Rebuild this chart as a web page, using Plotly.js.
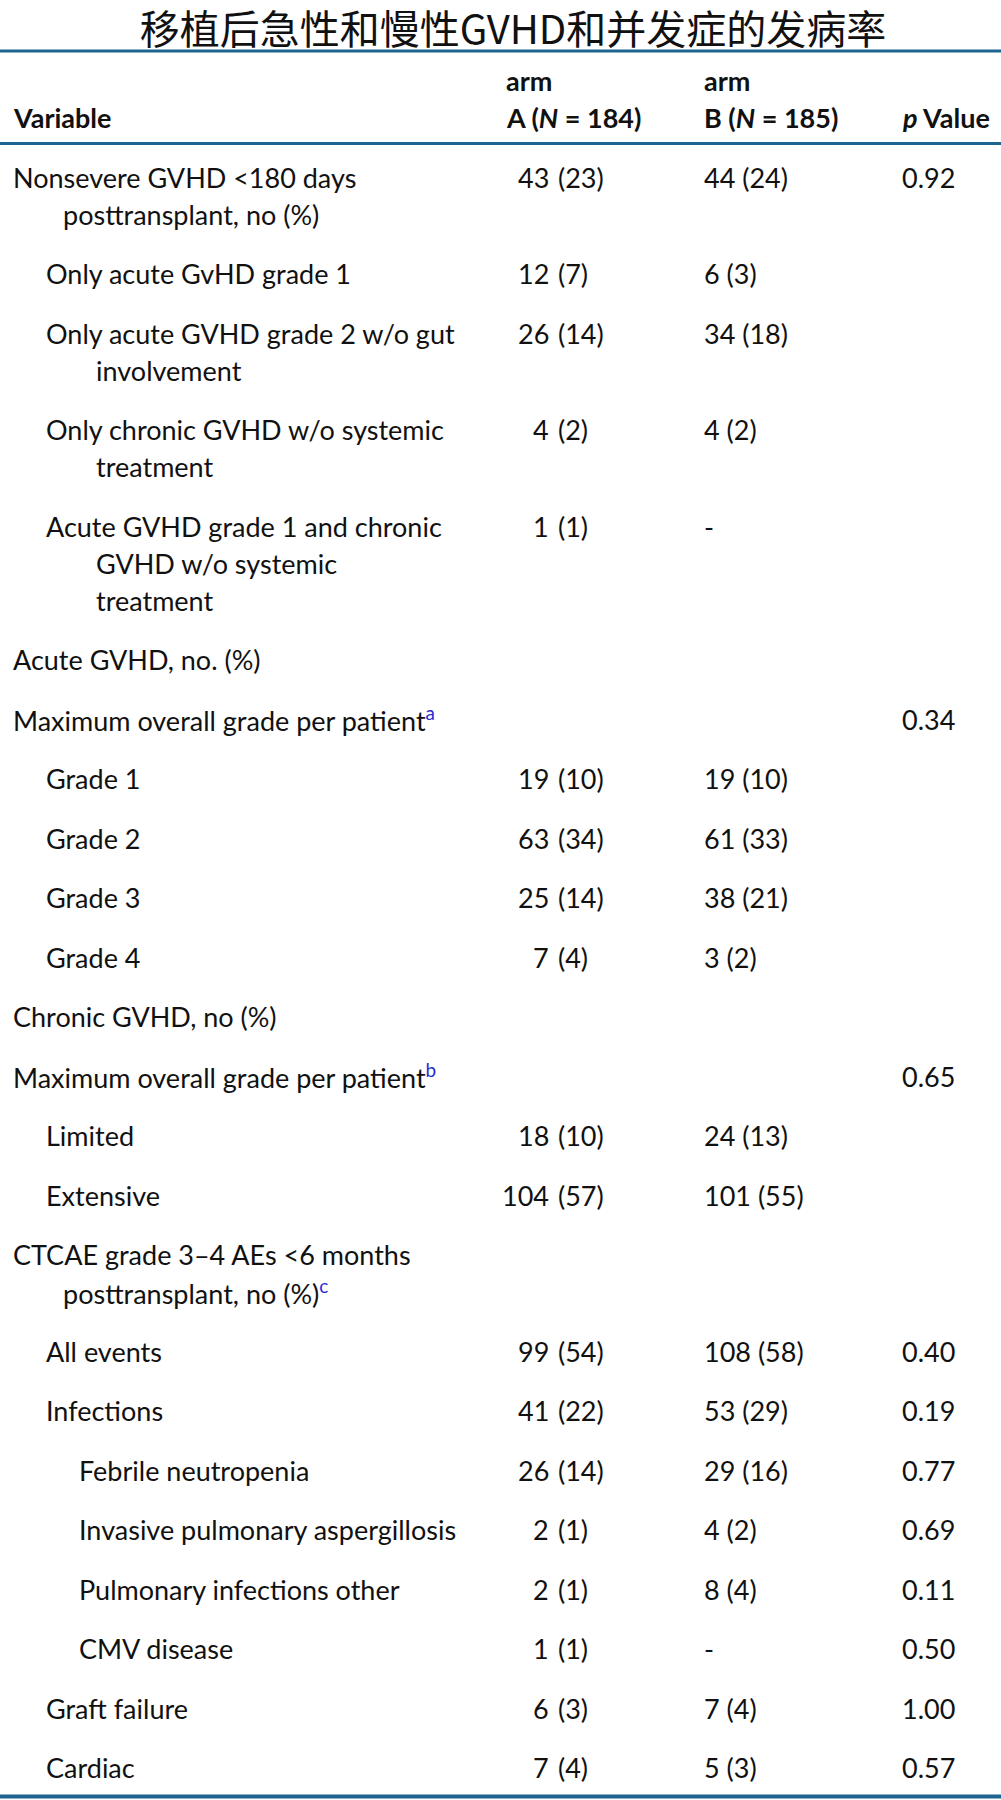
<!DOCTYPE html>
<html>
<head>
<meta charset="utf-8">
<script src="https://cdn.plot.ly/plotly-3.0.1.min.js"></script>
<style>html,body{margin:0;padding:0;background:#fff;}#chart{width:1001px;height:1800px;}</style>
</head>
<body>
<div id="chart"></div>
<script>
const chartTitle = "移植后急性和慢性GVHD和并发症的发病率";
const headerTop = ["", "arm", "arm", ""];
const headerBottom = ["Variable", "A (<i>N</i> = 184)", "B (<i>N</i> = 185)", "<i>p</i> Value"];

const variables = [
  "Nonsevere GVHD &lt;180 days|posttransplant, no (%)",
  "Only acute GvHD grade 1",
  "Only acute GVHD grade 2 w/o gut|involvement",
  "Only chronic GVHD w/o systemic|treatment",
  "Acute GVHD grade 1 and chronic|GVHD w/o systemic|treatment",
  "Acute GVHD, no. (%)",
  "Maximum overall grade per patient",
  "Grade 1",
  "Grade 2",
  "Grade 3",
  "Grade 4",
  "Chronic GVHD, no (%)",
  "Maximum overall grade per patient",
  "Limited",
  "Extensive",
  "CTCAE grade 3–4 AEs &lt;6 months|posttransplant, no (%)",
  "All events",
  "Infections",
  "Febrile neutropenia",
  "Invasive pulmonary aspergillosis",
  "Pulmonary infections other",
  "CMV disease",
  "Graft failure",
  "Cardiac"
];
const footnotes = ["", "", "", "", "", "", "a", "", "", "", "", "", "b", "", "", "c", "", "", "", "", "", "", "", ""];
const levels = [0, 1, 1, 1, 1, 0, 0, 1, 1, 1, 1, 0, 0, 1, 1, 0, 1, 1, 2, 2, 2, 2, 1, 1];
const armA = ["43 (23)", "12 (7)", "26 (14)", "4 (2)", "1 (1)", "", "", "19 (10)", "63 (34)", "25 (14)", "7 (4)", "", "", "18 (10)", "104 (57)", "", "99 (54)", "41 (22)", "26 (14)", "2 (1)", "2 (1)", "1 (1)", "6 (3)", "7 (4)"];
const armB = ["44 (24)", "6 (3)", "34 (18)", "4 (2)", "-", "", "", "19 (10)", "61 (33)", "38 (21)", "3 (2)", "", "", "24 (13)", "101 (55)", "", "108 (58)", "53 (29)", "29 (16)", "4 (2)", "8 (4)", "-", "7 (4)", "5 (3)"];
const pValues = ["0.92", "", "", "", "", "", "0.34", "", "", "", "", "", "0.65", "", "", "", "0.40", "0.19", "0.77", "0.69", "0.11", "0.50", "1.00", "0.57"];

// layout constants
const W = 1001, H = 1800;
const FONT = "Lato, 'Noto Sans', sans-serif";
const TXT = "#111111";
const RULE = "#1d6590";
const FS = 27;
const levelX = [11, 44, 77];
const contIndent = 50;
const colAnum = 551, colAparen = 556, colB = 702, colP = 900;
const firstY = 177, lineGap = 37, rowGap = 59.5;

const ann = [];
function add(x, y, text, anchor, extra) {
  ann.push(Object.assign({
    x: x, y: y, xref: "x", yref: "y", text: text, showarrow: false,
    xanchor: anchor, yanchor: "middle",
    font: {family: FONT, size: FS, color: TXT}
  }, extra || {}));
}

// header
const hx = [levelX[0], 504, colB, colP];
for (let i = 0; i < 4; i++) {
  if (headerTop[i]) add(hx[i], 80, "<b>" + headerTop[i] + "</b>", "left");
  add(hx[i], 117, "<b>" + headerBottom[i] + "</b>", "left");
}

// body
let y = firstY;
for (let r = 0; r < variables.length; r++) {
  const lines = variables[r].split("|");
  const lx = levelX[levels[r]];
  lines.forEach((ln, k) => {
    let t = ln;
    if (k === lines.length - 1 && footnotes[r]) {
      t += "<sup><span style='color:#2b2bd6'>" + footnotes[r] + "</span></sup>";
    }
    add(k === 0 ? lx : lx + contIndent, y + k * lineGap, t, "left");
  });
  if (armA[r]) {
    const sp = armA[r].indexOf(" ");
    if (sp > 0) {
      add(colAnum, y, armA[r].slice(0, sp), "right");
      add(colAparen, y, armA[r].slice(sp + 1), "left");
    } else {
      add(colAnum, y, armA[r], "right");
    }
  }
  if (armB[r]) add(colB, y, armB[r], "left");
  if (pValues[r]) add(colP, y, pValues[r], "left");
  y += (lines.length - 1) * lineGap + rowGap;
}

const shapes = [
  {type: "line", xref: "x", yref: "y", x0: 0, x1: W, y0: 51, y1: 51, line: {color: RULE, width: 3}},
  {type: "line", xref: "x", yref: "y", x0: 0, x1: W, y0: 143.5, y1: 143.5, line: {color: RULE, width: 3}},
  {type: "line", xref: "x", yref: "y", x0: 0, x1: W, y0: 1796.5, y1: 1796.5, line: {color: RULE, width: 4}}
];

const layout = {
  width: W, height: H,
  margin: {l: 0, r: 0, t: 0, b: 0, pad: 0},
  paper_bgcolor: "#ffffff", plot_bgcolor: "#ffffff",
  title: {
    text: chartTitle, x: 513 / W, xref: "paper", xanchor: "center",
    y: 1 - 29.5 / H, yref: "container", yanchor: "middle",
    font: {family: "'Noto Sans CJK SC', sans-serif", size: 40, color: "#111111"}
  },
  xaxis: {range: [0, W], visible: false, fixedrange: true},
  yaxis: {range: [H, 0], visible: false, fixedrange: true},
  showlegend: false,
  annotations: ann,
  shapes: shapes
};

Plotly.newPlot("chart", [], layout, {staticPlot: true, displayModeBar: false});
</script>
</body>
</html>
